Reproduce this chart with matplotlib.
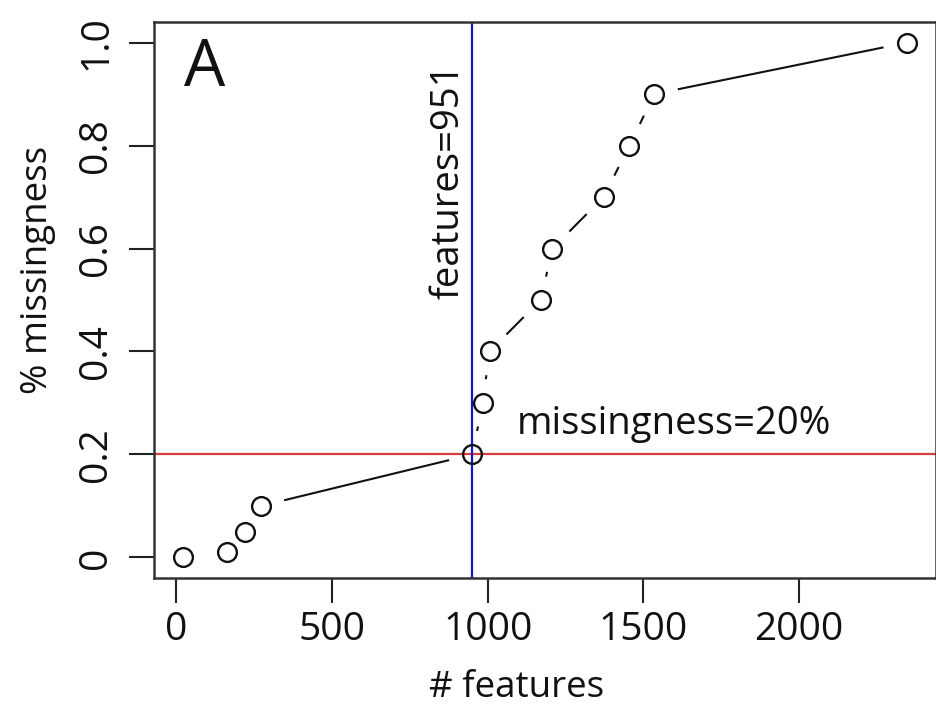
import numpy as np
import matplotlib
matplotlib.use("Agg")
import matplotlib.pyplot as plt

plt.rcParams['font.family'] = ['Open Sans', 'DejaVu Sans']

# data
features = [22, 163, 221, 272, 951, 984, 1006, 1170, 1208, 1372, 1455, 1535, 2346]
missingness = [0.0, 0.01, 0.05, 0.1, 0.2, 0.3, 0.4, 0.5, 0.6, 0.7, 0.8, 0.9, 1.0]
cut_features = 951
cut_missing = 0.2
xticks = [0, 500, 1000, 1500, 2000]
yticks = [0, 0.2, 0.4, 0.6, 0.8, 1.0]
ytick_labels = ["0", "0.2", "0.4", "0.6", "0.8", "1.0"]

fig = plt.figure(figsize=(9.37, 7.05), dpi=100)
ax = fig.add_axes([154 / 937, 127 / 705, 782 / 937, 556 / 705])

# R-style 4% padding
xr = max(features) - min(features)
ax.set_xlim(min(features) - 0.04 * xr, max(features) + 0.04 * xr)
ax.set_ylim(-0.04, 1.04)

# reference lines
ax.axhline(cut_missing, color='#d93a3a', lw=1.6, zorder=1)
ax.axvline(cut_features, color='#1414c8', lw=1.6, zorder=1)

# points
ax.plot(features, missingness, 'o', mfc='none', mec='#111111', ms=13.5, mew=1.7, zorder=3)

# lines with gaps around points (like R type="b")
gap = 25  # pixels
pts = ax.transData.transform(np.column_stack([features, missingness]))
inv = ax.transData.inverted()
for p0, p1 in zip(pts[:-1], pts[1:]):
    d = p1 - p0
    L = np.hypot(*d)
    if L <= 2 * gap:
        continue
    u = d / L
    a = inv.transform(p0 + u * gap)
    b = inv.transform(p1 - u * gap)
    ax.plot([a[0], b[0]], [a[1], b[1]], color='#111111', lw=1.5, zorder=2)

# annotations
ax.text(0.065, 0.915, "A", transform=ax.transAxes, fontsize=47,
        ha='center', va='center', color='#111111')
ax.text(cut_features - 17, 0.73, "features=951", rotation=90, fontsize=27.5,
        ha='right', va='center', color='#111111')
ax.text(1598, 0.222, "missingness=20%", fontsize=27.5, ha='center', va='bottom',
        color='#111111')

# axes styling
ax.set_xticks(xticks)
ax.set_xticklabels([str(t) for t in xticks])
ax.set_yticks(yticks)
ax.set_yticklabels(ytick_labels, rotation=90, va='center')
ax.tick_params(axis='both', length=18, width=1.5, color='#222222',
               labelsize=28, labelcolor='#111111')
ax.tick_params(axis='x', pad=6)
ax.tick_params(axis='y', pad=10)
for s in ax.spines.values():
    s.set_linewidth(1.8)
    s.set_color('#333333')

fig.text(517 / 937, 1 - 688 / 705, "# features", fontsize=26.5,
         ha='center', va='center', color='#111111')
fig.text(38 / 937, 1 - 270 / 705, "% missingness", fontsize=26.5, rotation=90,
         ha='center', va='center', color='#111111')

plt.savefig("out.png", dpi=100)
